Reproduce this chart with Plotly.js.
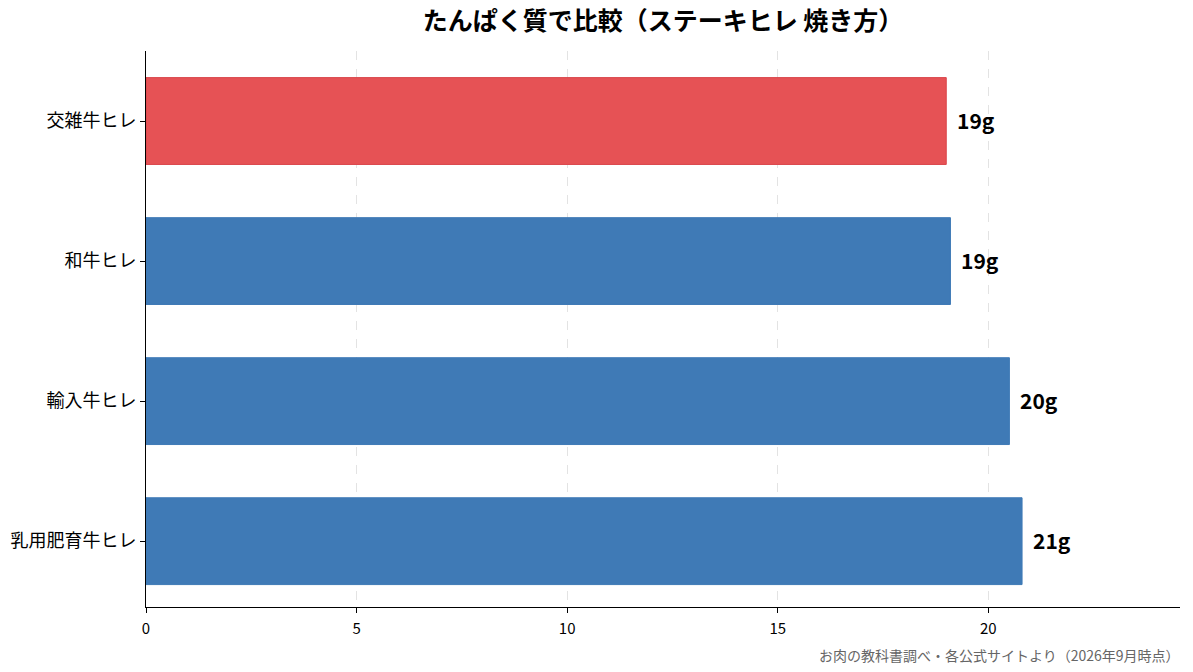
<!DOCTYPE html>
<html>
<head>
<meta charset="utf-8">
<script src="https://cdn.plot.ly/plotly-3.0.1.min.js"></script>
<style>body{margin:0;background:#fff}</style>
</head>
<body>
<div id="chart" style="width:1193px;height:672px"></div>
<script>
// data (g of protein)
var cuts = ['交雑牛ヒレ', '和牛ヒレ', '輸入牛ヒレ', '乳用肥育牛ヒレ']
var protein = [19.0, 19.1, 20.5, 20.8]
var valueLabels = ['19g', '19g', '20g', '21g']
var highlight = '交雑牛ヒレ'
var xTicks = [0, 5, 10, 15, 20]

var font = '"Noto Sans CJK JP", "Noto Sans", sans-serif'

var colors = cuts.map(function (c) { return c == highlight ? '#e65255' : '#3f7ab6' })
var edges = cuts.map(function (c) { return c == highlight ? '#d9454a' : '#3f7ab6' })

var data = [{
  type: 'bar',
  orientation: 'h',
  y: cuts,
  x: protein,
  width: 0.62,
  marker: {color: colors, line: {color: edges, width: 1}},
  hoverinfo: 'none'
}]

var annotations = cuts.map(function (c, i) {
  return {
    x: protein[i], y: c, xref: 'x', yref: 'y',
    text: valueLabels[i], showarrow: false,
    xanchor: 'left', xshift: 9, yshift: 1,
    font: {family: font, size: 21, color: '#000', weight: 'bold'}
  }
})
annotations.push({
  xref: 'paper', yref: 'paper', x: 1.002, y: -0.086,
  xanchor: 'right', yanchor: 'middle', showarrow: false,
  text: 'お肉の教科書調べ・各公式サイトより（2026年9月時点）',
  font: {family: font, size: 14, color: '#666'}
})

var layout = {
  width: 1193, height: 672,
  margin: {l: 146, r: 13, t: 51, b: 65},
  paper_bgcolor: '#fff', plot_bgcolor: '#fff',
  font: {family: font, color: '#000'},
  title: {
    text: 'たんぱく質で比較（ステーキヒレ 焼き方）',
    font: {family: font, size: 25, color: '#000', weight: 'bold'},
    xref: 'paper', x: 0.5, xanchor: 'center', y: 0.968, yanchor: 'middle'
  },
  xaxis: {
    range: [0, 24.55],
    tickvals: xTicks,
    ticktext: xTicks.map(String),
    ticks: 'outside', ticklen: 5, tickcolor: '#000',
    ticklabelstandoff: 3,
    showline: true, linecolor: '#000', linewidth: 1,
    showgrid: true, gridcolor: '#e3e3e3', griddash: 'dash', gridwidth: 1,
    zeroline: false,
    tickfont: {family: font, size: 15, color: '#000'}
  },
  yaxis: {
    categoryorder: 'array', categoryarray: cuts,
    autorange: false, range: [3.47, -0.5],
    ticks: 'outside', ticklen: 5, tickcolor: '#000',
    showline: true, linecolor: '#000', linewidth: 1,
    showgrid: false, zeroline: false,
    tickfont: {family: font, size: 18, color: '#000'}
  },
  showlegend: false,
  annotations: annotations
}

Plotly.newPlot('chart', data, layout, {displayModeBar: false})
</script>
</body>
</html>
